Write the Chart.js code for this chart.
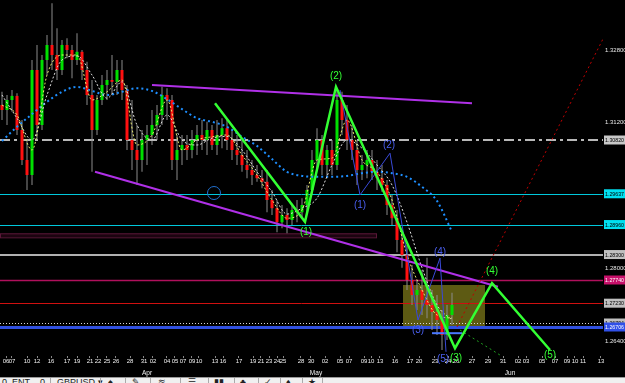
<!DOCTYPE html>
<html><head><meta charset="utf-8">
<script src="https://cdn.jsdelivr.net/npm/chart.js@4"></script>
<style>
html,body{margin:0;padding:0;background:#000;width:625px;height:383px;overflow:hidden}
#wrap{position:absolute;left:0;top:0;width:625px;height:377px}
#tb{position:absolute;left:0;top:377px;width:625px;height:6px;background:#f0f0f0;overflow:hidden;font:9px 'Liberation Sans',Arial,sans-serif;color:#222;border-top:1px solid #999;box-sizing:border-box}
#tb span{position:absolute;top:-1px}
#tb i{position:absolute;top:0;width:1px;height:6px;background:#aaa}
</style></head><body>
<div id="wrap"><canvas id="c" width="625" height="377"></canvas></div>
<div id="tb"><span style="left:2px">0</span><span style="left:12px">ENT</span><span style="left:40px">0</span><i style="left:50px"></i><span style="left:57px">GBPUSD ▾</span><i style="left:100px"></i><span style="left:108px">♠</span><i style="left:125px"></i><span style="left:132px">✎</span><i style="left:150px"></i><span style="left:158px">≋</span><i style="left:180px"></i><span style="left:188px">☰</span><i style="left:208px"></i><span style="left:214px">▮▮</span><i style="left:234px"></i><span style="left:240px">♣</span><i style="left:258px"></i><span style="left:264px">✓</span><i style="left:280px"></i><span style="left:286px">♦</span><i style="left:302px"></i><span style="left:308px">★</span><i style="left:322px"></i></div>
<script>
// ---------- DATA ----------
const opens = [1.3159,1.3148,1.3170,1.3179,1.3104,1.3038,1.3005,1.3236,1.3115,1.3258,
1.3291,1.3269,1.3236,1.3291,1.3280,1.3258,1.3276,1.3236,1.3181,1.3104,
1.3170,1.3203,1.3214,1.3210,1.3236,1.3192,1.3082,1.3060,1.3038,1.3082,
1.3093,1.3115,1.3137,1.3181,1.3170,1.3038,1.3060,1.3071,1.3060,1.3082,
1.3093,1.3082,1.3104,1.3071,1.3093,1.3108,1.3082,1.3060,1.3049,1.3027,
1.3016,1.3005,1.2998,1.2990,1.2950,1.2932,1.2901,1.2917,1.2906,1.2928,
1.2923,1.2939,1.2972,1.3038,1.3082,1.3027,1.3060,1.3027,1.3170,1.3126,
1.3082,1.3060,1.3016,1.3027,1.3038,1.3012,1.2998,1.2983,1.2939,1.2910,
1.2862,1.2829,1.2774,1.2741,1.2752,1.2730,1.2719,1.2704,1.2686,1.2653,
1.2697];
const highs = [1.3188,1.3181,1.3192,1.3185,1.3126,1.3082,1.3258,1.3291,1.3269,1.3313,
1.3383,1.3328,1.3302,1.3306,1.3291,1.3317,1.3280,1.3254,1.3214,1.3181,
1.3225,1.3236,1.3269,1.3258,1.3258,1.3203,1.3170,1.3115,1.3104,1.3115,
1.3148,1.3159,1.3199,1.3196,1.3181,1.3093,1.3093,1.3093,1.3104,1.3115,
1.3126,1.3122,1.3115,1.3126,1.3130,1.3126,1.3104,1.3093,1.3082,1.3060,
1.3038,1.3027,1.3016,1.3016,1.2972,1.2950,1.2939,1.2932,1.2939,1.2950,
1.2954,1.2983,1.3060,1.3108,1.3093,1.3071,1.3082,1.3192,1.3188,1.3159,
1.3115,1.3082,1.3049,1.3060,1.3060,1.3038,1.3027,1.2994,1.2961,1.2928,
1.2884,1.2851,1.2807,1.2774,1.2796,1.2823,1.2752,1.2741,1.2708,1.2719,
1.2746];
const lows = [1.3126,1.3115,1.3144,1.3093,1.3027,1.2972,1.2983,1.3082,1.3104,1.3225,
1.3236,1.3214,1.3225,1.3262,1.3218,1.3247,1.3214,1.3159,1.3012,1.3093,
1.3159,1.3170,1.3181,1.3181,1.3170,1.3060,1.3016,1.2983,1.3012,1.3027,
1.3071,1.3082,1.3115,1.3126,1.3016,1.2994,1.3027,1.3038,1.3042,1.3049,
1.3060,1.3049,1.3060,1.3049,1.3064,1.3060,1.3038,1.3027,1.3012,1.2998,
1.2983,1.2990,1.2976,1.2923,1.2917,1.2879,1.2888,1.2877,1.2895,1.2901,
1.2910,1.2923,1.2961,1.3016,1.3005,1.2998,1.3005,1.3016,1.3093,1.3060,
1.3038,1.2983,1.2994,1.2998,1.2994,1.2972,1.2968,1.2917,1.2895,1.2835,
1.2801,1.2752,1.2719,1.2708,1.2697,1.2690,1.2664,1.2653,1.2620,1.2642,
1.2675];
const closes = [1.3148,1.3170,1.3179,1.3104,1.3038,1.3005,1.3236,1.3115,1.3258,1.3291,
1.3269,1.3236,1.3291,1.3280,1.3258,1.3276,1.3236,1.3181,1.3104,1.3170,
1.3203,1.3214,1.3210,1.3236,1.3192,1.3082,1.3060,1.3038,1.3082,1.3093,
1.3115,1.3137,1.3181,1.3170,1.3038,1.3060,1.3071,1.3060,1.3082,1.3093,
1.3082,1.3104,1.3071,1.3093,1.3108,1.3082,1.3060,1.3049,1.3027,1.3016,
1.3005,1.2998,1.2990,1.2950,1.2932,1.2901,1.2917,1.2906,1.2928,1.2923,
1.2939,1.2972,1.3038,1.3082,1.3027,1.3060,1.3027,1.3170,1.3126,1.3082,
1.3060,1.3016,1.3027,1.3038,1.3012,1.2998,1.2983,1.2939,1.2910,1.2862,
1.2829,1.2774,1.2741,1.2752,1.2730,1.2719,1.2704,1.2686,1.2653,1.2697,
1.2719];

const maBars   = [0,3,6,9,12,15,18,21,24,27,30,33,36,39,42,45,48,51,54,57,60,63,66,69,72,75,78,81,84,87,90];
const slowMA   = [1.3080,1.3111,1.3139,1.3166,1.3188,1.3199,1.3190,1.3181,1.3188,1.3196,1.3190,1.3172,1.3150,1.3130,1.3122,1.3111,1.3089,1.3069,1.3040,1.3012,1.3003,1.3001,1.3001,1.3003,1.3009,1.3012,1.3009,1.3001,1.2979,1.2948,1.2880];
const whiteMA  = [1.3181,1.3130,1.3082,1.3181,1.3258,1.3267,1.3225,1.3174,1.3210,1.3115,1.3082,1.3137,1.3082,1.3071,1.3086,1.3090,1.3060,1.3012,1.2968,1.2919,1.2932,1.2954,1.3027,1.3082,1.3064,1.3027,1.2983,1.2901,1.2801,1.2719,1.2686];
const yellowMA = [1.3159,1.3137,1.3060,1.3225,1.3269,1.3269,1.3170,1.3188,1.3214,1.3071,1.3093,1.3170,1.3060,1.3082,1.3089,1.3093,1.3049,1.3005,1.2950,1.2910,1.2928,1.3038,1.3042,1.3126,1.3038,1.3012,1.2950,1.2829,1.2752,1.2697,1.2690];

const waveBars   = [42.6,60.6,66.8,90.6,98,109.6];
const wavePrices = [1.3163,1.2902,1.3199,1.2624,1.2767,1.2620];
const subBars    = [67.6,71.6,77.6,83.2,87.6,88.8];
const subPrices  = [1.3192,1.2961,1.3053,1.2686,1.2822,1.2616];

const upperChanBars = [30,94],     upperChanPrices = [1.3203,1.3163];
const lowerChanBars = [18.6,99.2], lowerChanPrices = [1.3012,1.2759];
const redProjBars   = [91,120.6],  redProjPrices   = [1.2671,1.3313];
const greenProjBars = [91.6,100.6],greenProjPrices = [1.2664,1.2602];
const blueSegBars   = [86,92],     blueSegPrice    = 1.2657;
const circleBar = 42.4, circlePrice = 1.29654;

const greenLabelText = ['(1)','(2)','(3)','(4)','(5)'];
const greenLabelBars = [60.8,66.8,90.8,98,109.6];
const greenLabelPrices = [1.2880,1.3223,1.2602,1.2794,1.2609];
const blueLabelText = ['(1)','(2)','(3)','(4)','(5)'];
const blueLabelBars = [71.6,77.4,83.2,87.6,88.2];
const blueLabelPrices = [1.2939,1.3071,1.2664,1.2836,1.2600];

const levelPrices = [1.30820,1.29637,1.28960,1.28300,1.27740,1.27230,1.26794,1.26706];
const zoneBars = [-0.4,75], zonePrices = [1.28679,1.28767];
const boxBars = [80.2,96.6], boxPrices = [1.2671,1.2763];

const yTicks = [1.264,1.280,1.312,1.328];
const xTickBars = [0.8,2,5,7,9.8,13,15,17.6,19.2,21,22.8,25.6,28.4,30.2,33,34.6,36.2,38,39.4,42.6,44.2,47.4,50.2,51.8,53.4,55,56.2,59.8,61.8,64.6,67.6,69.4,72.4,73.8,75.6,78.6,81.6,83.4,86.6,89.2,90.8,94,97.2,100.2,103.2,104.8,108,110.6,113,114.6,116.2,119.8];
const xTickLabels = ['06','07','10','12','16','17','19','21','22','25','26','28','31','02','04','05','07','09','10','13','16','17','19','21','23','24','25','28','30','02','05','07','09','10','13','16','17','20','23','24','26','27','29','31','02','03','05','07','09','10','11','13'];
const monthBars = [29,62.8,101.6];
const monthLabels = ['Apr','May','Jun'];

// ---------- STYLES ----------
const levelStyles = [
  {c:'#b8b8b8',w:2,d:[10,4,3,4],box:'#c8c8c8',t:'#000'},
  {c:'#00c8dc',w:1,d:[],box:'#00e0f0',t:'#000'},
  {c:'#00c8dc',w:1,d:[],box:'#00e0f0',t:'#000'},
  {c:'#b0b0b0',w:2,d:[],box:'#c0c0c0',t:'#000'},
  {c:'#b0105c',w:1.5,d:[],box:'#c8106a',t:'#fff'},
  {c:'#d01010',w:1,d:[],box:'#c0c0c0',t:'#000'},
  {c:'#d8d8d8',w:1,d:[1,2],box:'#c0c0c0',t:'#000'},
  {c:'#3050e0',w:3,d:[],box:'#3050e8',t:'#fff'}
];
const FONT = "'Liberation Sans', Arial, sans-serif";

const pts = (xs, ys) => xs.map((x,i)=>({x, y: ys[i]}));
const wicks = opens.map((o,i)=>({x:i, y:[lows[i],highs[i]]}));
const bodies = opens.map((o,i)=>({x:i, y:[Math.min(o,closes[i]),Math.max(o,closes[i])]}));
const bodyColors = opens.map((o,i)=> closes[i] >= o ? '#00e000' : '#ff1010');

const overlay = {
  id:'overlay',
  beforeDatasetsDraw(chart){
    const {ctx, chartArea:a, scales:{x,y}} = chart;
    ctx.save();
    ctx.beginPath(); ctx.rect(a.left,a.top,a.right-a.left,a.bottom-a.top); ctx.clip();
    let x0=x.getPixelForValue(zoneBars[0]), x1=x.getPixelForValue(zoneBars[1]);
    let y0=y.getPixelForValue(zonePrices[1]), y1=y.getPixelForValue(zonePrices[0]);
    ctx.fillStyle='#1c0410'; ctx.fillRect(x0,y0,x1-x0,y1-y0);
    ctx.strokeStyle='#5a1838'; ctx.lineWidth=1; ctx.strokeRect(x0+0.5,y0+0.5,x1-x0-1,y1-y0);
    x0=x.getPixelForValue(boxBars[0]); x1=x.getPixelForValue(boxBars[1]);
    y0=y.getPixelForValue(boxPrices[1]); y1=y.getPixelForValue(boxPrices[0]);
    ctx.fillStyle='rgba(150,145,30,0.62)'; ctx.fillRect(x0,y0,x1-x0,y1-y0);
    levelPrices.forEach((v,i)=>{
      const s=levelStyles[i], py=Math.round(y.getPixelForValue(v))+(s.w%2?0.5:0);
      ctx.strokeStyle=s.c; ctx.lineWidth=s.w; ctx.setLineDash(s.d);
      ctx.beginPath(); ctx.moveTo(a.left,py); ctx.lineTo(a.right,py); ctx.stroke();
    });
    ctx.setLineDash([]);
    ctx.restore();
  },
  afterDraw(chart){
    const {ctx, scales:{x,y}} = chart;
    ctx.save();
    ctx.textBaseline='middle';
    levelPrices.forEach((v,i)=>{
      const s=levelStyles[i], py=y.getPixelForValue(v);
      ctx.fillStyle=s.box; ctx.fillRect(604,py-4.5,21,9);
      ctx.fillStyle=s.t; ctx.font='6px '+FONT; ctx.textAlign='left';
      ctx.fillText(v.toFixed(5),605,py+0.5,19);
    });
    ctx.textAlign='center';
    ctx.fillStyle='#f0f0f0'; ctx.font='6.5px '+FONT;
    monthLabels.forEach((t,i)=>ctx.fillText(t,x.getPixelForValue(monthBars[i]),x.bottom-4));
    ctx.font='10px '+FONT;
    ctx.fillStyle='#4a5ff0';
    blueLabelText.forEach((t,i)=>ctx.fillText(t,x.getPixelForValue(blueLabelBars[i]),y.getPixelForValue(blueLabelPrices[i])));
    ctx.fillStyle='#33ff33';
    greenLabelText.forEach((t,i)=>ctx.fillText(t,x.getPixelForValue(greenLabelBars[i]),y.getPixelForValue(greenLabelPrices[i])));
    ctx.restore();
  }
};

const lineDs = (data, color, width, dash, order, tension) => ({
  type:'line', data, borderColor:color, borderWidth:width, borderDash:dash||[],
  pointRadius:0, fill:false, tension:tension||0, order, cubicInterpolationMode: tension?'monotone':'default'
});

new Chart(document.getElementById('c'), {
  type:'line',
  data:{ datasets:[
    {type:'bar', data:wicks, backgroundColor:'#8c8c8c', borderWidth:0, grouped:false, maxBarThickness:1, order:20},
    {type:'bar', data:bodies, backgroundColor:bodyColors, borderWidth:0, grouped:false, maxBarThickness:3, order:19},
    lineDs(pts(maBars,slowMA),'#1e8fff',2,[2,3],10,0.4),
    lineDs(pts(maBars,whiteMA),'#e0e0e0',1,[2,2],9,0.4),
    lineDs(pts(maBars,yellowMA),'#e8e870',1,[2,2],8,0.4),
    lineDs(pts(upperChanBars,upperChanPrices),'#b030e8',2,[],7),
    lineDs(pts(lowerChanBars,lowerChanPrices),'#b030e8',2,[],7),
    lineDs(pts(redProjBars,redProjPrices),'#c00000',1,[2,3],6),
    lineDs(pts(greenProjBars,greenProjPrices),'#20a020',1,[2,3],6),
    lineDs(pts(blueSegBars,[blueSegPrice,blueSegPrice]),'#4a78ff',2,[],5),
    lineDs(pts(subBars,subPrices),'#3a4ad8',1,[],4),
    lineDs(pts(waveBars,wavePrices),'#33ff33',2.5,[],2),
    {type:'scatter', data:[{x:circleBar,y:circlePrice}], pointRadius:6.5, pointBorderColor:'#2070d0', pointBorderWidth:1, pointBackgroundColor:'rgba(0,0,0,0)', showLine:false, order:3}
  ]},
  plugins:[overlay],
  options:{
    responsive:false, devicePixelRatio:1, animation:false,
    layout:{padding:0, autoPadding:false},
    plugins:{legend:{display:false}, tooltip:{enabled:false}},
    scales:{
      x:{type:'linear', position:'bottom', min:-0.4, max:120.2, offset:false,
        grid:{display:true, drawOnChartArea:false, drawTicks:true, tickLength:2, color:'#888', offset:false},
        border:{display:false},
        afterBuildTicks:s=>{s.ticks=xTickBars.map(v=>({value:v}));},
        afterFit:s=>{s.height=21; s.paddingLeft=0; s.paddingRight=0;},
        ticks:{autoSkip:false, maxRotation:0, padding:0, color:'#f0f0f0', font:{family:FONT,size:6},
          callback:(v,i)=>xTickLabels[i]}
      },
      y:{type:'linear', position:'right', min:1.26068, max:1.3390, beginAtZero:false,
        grid:{display:false, drawTicks:false, tickLength:0}, border:{display:false},
        afterBuildTicks:s=>{s.ticks=yTicks.map(v=>({value:v}));},
        afterFit:s=>{s.width=22; s.paddingTop=0; s.paddingBottom=0;},
        ticks:{autoSkip:false, padding:2, color:'#e8e8e8', font:{family:FONT,size:6},
          callback:v=>v.toFixed(5)}
      }
    }
  }
});
</script>
</body></html>
